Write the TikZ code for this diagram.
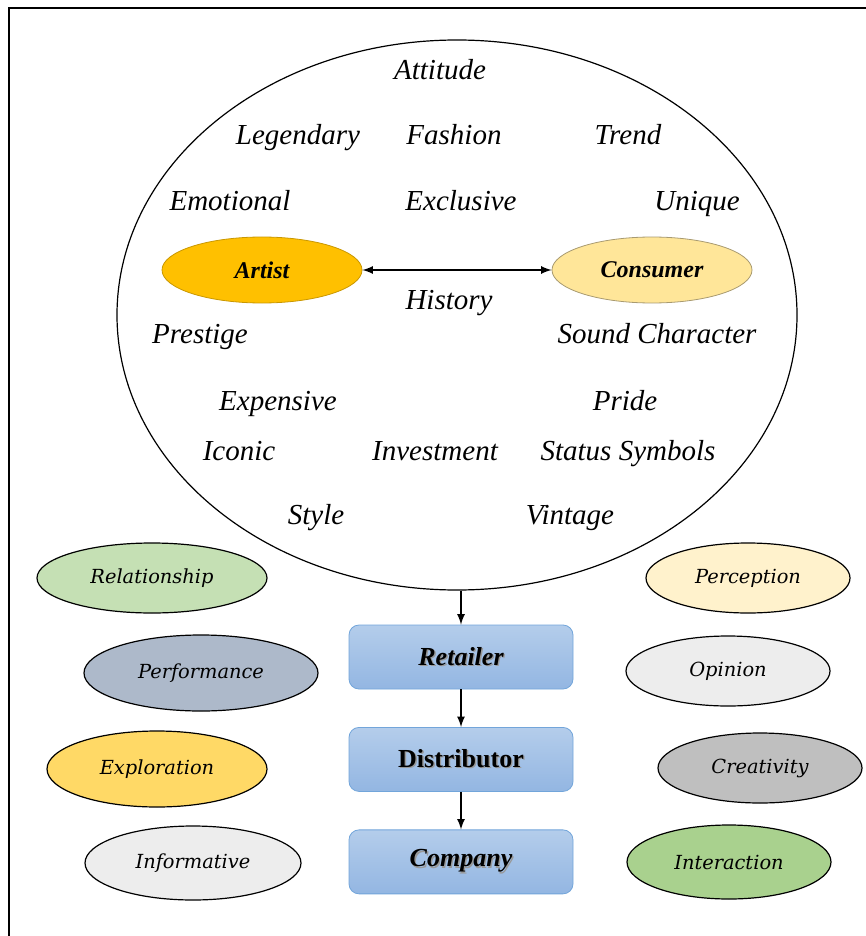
\documentclass[tikz,border=0pt]{standalone}
\usepackage{fontspec}
\setmainfont{Liberation Serif}
\newfontfamily\slabfont{DejaVu Serif}
\usepackage{tikz}
\usetikzlibrary{arrows, positioning, shapes.geometric}
\usepackage{xcolor}

\definecolor{artistfill}{HTML}{FFC000}
\definecolor{artistline}{HTML}{C99700}
\definecolor{consfill}{HTML}{FFE699}
\definecolor{consline}{HTML}{A89A70}
\definecolor{boxtop}{HTML}{B4CDEB}
\definecolor{boxbot}{HTML}{93B6E2}
\definecolor{boxline}{HTML}{72A5DA}

\newcommand{\shadowed}[1]{\makebox[0pt][l]{\hspace{0.7pt}\raisebox{-0.7pt}{\textcolor{black!40}{#1}}}#1}

\begin{document}
\begin{tikzpicture}[x=0.5pt,y=-0.5pt,node distance=1.8cm,on grid,>=latex]
    \tikzstyle{word}=[text height=10.5pt,text depth=3pt,font=\fontsize{14.5}{16}\selectfont\itshape]
    \tikzstyle{role}=[shape=ellipse,draw,minimum width=100pt,minimum height=33pt,inner sep=0pt,font=\fontsize{12}{14}\selectfont\bfseries\itshape]
    \tikzstyle{trait}=[shape=ellipse,draw,line width=0.6pt,minimum height=36pt,inner sep=0pt,font=\slabfont\fontsize{9.7}{11}\selectfont\itshape]
    \tikzstyle{chain}=[shape=rectangle,rounded corners=5pt,draw=boxline,top color=boxtop,bottom color=boxbot,minimum width=112pt,minimum height=32pt,font=\fontsize{13}{15}\selectfont\bfseries]

    \useasboundingbox (0,0) rectangle (866,936);
    \draw[line width=1.4pt] (9,936) -- (9,8) -- (866,8);

    % big circle of words
    \node[shape=ellipse,draw,line width=0.6pt,minimum width=340pt,minimum height=275pt] (E) at (457,315) {};
    \coordinate (E0) at (E.south -| 461,0);

    \node[role,fill=artistfill,draw=artistline] (A0) at (262,270) {Artist};
    \node[role,fill=consfill,draw=consline] (C0) at (652,270) {Consumer};

    \node[word] (W1) at (440,72) {Attitude};
    \node[word] (W2) at (298,137) {Legendary};
    \node[word] (W3) at (454,137) {Fashion};
    \node[word] (W4) at (628,137) {Trend};
    \node[word] (W5) at (230,203) {Emotional};
    \node[word] (W6) at (461,203) {Exclusive};
    \node[word] (W7) at (697,203) {Unique};
    \node[word] (W8) at (449,302) {History};
    \node[word] (W9) at (200,336) {Prestige};
    \node[word] (W10) at (657,336) {Sound Character};
    \node[word] (W11) at (278,403) {Expensive};
    \node[word] (W12) at (625,403) {Pride};
    \node[word] (W13) at (239,453) {Iconic};
    \node[word] (W14) at (435,453) {Investment};
    \node[word] (W15) at (628,453) {Status Symbols};
    \node[word] (W16) at (316,517) {Style};
    \node[word] (W17) at (570,517) {Vintage};

    % supply chain
    \node[chain] (B1) at (461,657) {\shadowed{\itshape Retailer}};
    \node[chain, below of=B1] (B2) {\shadowed{Distributor}};
    \node[chain, below of=B2] (B3) {\shadowed{\itshape Company}};

    % side ellipses
    \node[trait,minimum width=115pt,minimum height=35pt,fill={rgb,255:red,197;green,224;blue,180}] (L1) at (152,578) {Relationship};
    \node[trait,minimum width=117pt,minimum height=38pt,fill={rgb,255:red,173;green,185;blue,202}] (L2) at (201,673) {Performance};
    \node[trait,minimum width=110pt,minimum height=38pt,fill={rgb,255:red,255;green,217;blue,102}] (L3) at (157,769) {Exploration};
    \node[trait,minimum width=108pt,minimum height=37pt,fill={rgb,255:red,237;green,237;blue,237}] (L4) at (193,863) {Informative};

    \node[trait,minimum width=102pt,minimum height=35pt,fill={rgb,255:red,255;green,242;blue,204}] (R1) at (748,578) {Perception};
    \node[trait,minimum width=102pt,minimum height=35pt,fill={rgb,255:red,237;green,237;blue,237}] (R2) at (728,671) {Opinion};
    \node[trait,minimum width=102pt,minimum height=35pt,fill={rgb,255:red,191;green,191;blue,191}] (R3) at (760,768) {Creativity};
    \node[trait,minimum width=102pt,minimum height=37pt,fill={rgb,255:red,169;green,209;blue,142}] (R4) at (729,862) {Interaction};

    \path[<->, thick]
    (A0) edge node {} (C0);

    \path[->, thick]
    (E0) edge node {} (B1)
    (B1) edge node {} (B2)
    (B2) edge node {} (B3)
    ;
\end{tikzpicture}
\end{document}
